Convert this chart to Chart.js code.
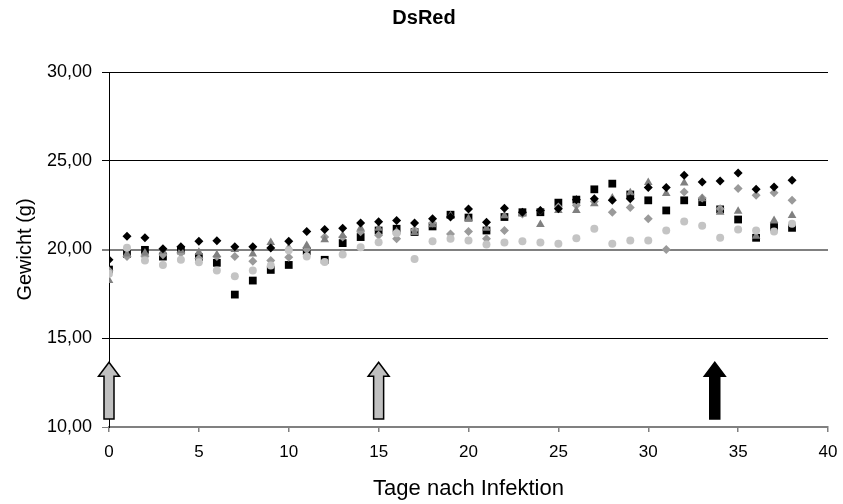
<!DOCTYPE html>
<html>
<head>
<meta charset="utf-8">
<script src="https://cdn.jsdelivr.net/npm/chart.js@4"></script>
<style>
  body { margin: 0; background: #fff; }
</style>
</head>
<body>
<canvas id="dsredCanvas" width="843" height="504"></canvas>
<script>
// days after infection
const days = [0,1,2,3,4,5,6,7,8,9,10,11,12,13,14,15,16,17,18,19,20,21,22,23,24,25,26,27,28,29,30,31,32,33,34,35,36,37,38];

// weight (g) per animal
const blackDiamond = [19.42,20.75,20.66,20.04,20.15,20.47,20.50,20.15,20.15,20.08,20.47,21.02,21.13,21.20,21.50,21.56,21.64,21.49,21.73,21.83,22.28,21.54,22.33,22.10,22.20,22.30,22.80,22.86,22.77,22.86,23.49,23.49,24.18,23.80,23.86,24.31,23.39,23.52,23.90];
const blackSquare = [18.87,19.75,19.98,19.60,19.95,19.57,19.25,17.46,18.25,18.85,19.13,19.90,19.42,20.36,20.70,21.07,21.17,20.98,21.30,21.96,21.80,21.07,21.83,22.10,22.10,22.64,22.81,23.39,23.71,23.10,22.77,22.20,22.77,22.67,22.26,21.69,20.66,21.26,21.22];
const grayTriangle = [18.25,19.75,19.80,19.90,19.95,19.85,19.70,20.00,19.75,20.40,20.10,20.23,20.55,20.79,21.20,21.20,21.00,20.95,21.40,21.90,21.73,21.20,21.90,22.00,21.41,22.20,22.20,22.58,22.90,23.20,23.77,23.15,23.75,22.86,22.10,22.15,20.75,21.64,21.92];
const grayDiamond = [18.80,19.60,19.60,19.70,19.80,19.50,19.60,19.60,19.34,19.38,19.57,20.00,20.70,20.70,21.00,20.80,20.60,21.10,21.50,20.88,21.02,20.60,21.07,22.00,22.20,22.40,22.50,22.70,22.10,22.36,21.73,20.00,23.24,22.90,22.30,23.43,23.05,23.20,22.77];
const lightCircle = [18.64,20.10,19.38,19.13,19.42,19.28,18.81,18.50,18.81,19.10,19.96,19.60,19.30,19.72,20.13,20.41,20.92,19.47,20.47,20.60,20.51,20.28,20.40,20.47,20.40,20.32,20.64,21.17,20.32,20.51,20.51,21.07,21.58,21.34,20.66,21.13,21.07,21.02,21.45];

// treatment arrows
const arrowDays = [0, 15, 33.7];
const arrowFills = ['#c0c0c0', '#c0c0c0', '#000000'];
const arrowBottom = 10.45;
const arrowTop = 13.65;

const pts = (ys) => days.map((d, i) => ({ x: d, y: ys[i] }));
const FONT = "'Liberation Sans', Arial, sans-serif";

const arrowsAndTitle = {
    id: 'arrowsAndTitle',
    afterDatasetsDraw(chart) {
        const ctx = chart.ctx;
        const xs = chart.scales.x, ys = chart.scales.y;
        const yb = ys.getPixelForValue(arrowBottom);
        const yt = ys.getPixelForValue(arrowTop);
        arrowDays.forEach((d, i) => {
            const cx = xs.getPixelForValue(d);
            const sw = 5, hw = 10.5, hh = 14;
            ctx.save();
            ctx.beginPath();
            ctx.moveTo(cx - sw, yb);
            ctx.lineTo(cx - sw, yt + hh);
            ctx.lineTo(cx - hw, yt + hh);
            ctx.lineTo(cx, yt);
            ctx.lineTo(cx + hw, yt + hh);
            ctx.lineTo(cx + sw, yt + hh);
            ctx.lineTo(cx + sw, yb);
            ctx.closePath();
            ctx.fillStyle = arrowFills[i];
            ctx.fill();
            ctx.lineWidth = 1.5;
            ctx.strokeStyle = '#000';
            ctx.stroke();
            ctx.restore();
        });
        ctx.save();
        ctx.font = 'bold 20px ' + FONT;
        ctx.fillStyle = '#000';
        ctx.textAlign = 'center';
        ctx.textBaseline = 'middle';
        ctx.fillText('DsRed', 424, 18);
        ctx.restore();
    }
};

document.addEventListener("DOMContentLoaded", () => {
    const ctx = document.getElementById('dsredCanvas').getContext('2d');
    new Chart(ctx, {
        type: 'scatter',
        data: {
            datasets: [
                { label: 'A', data: pts(blackDiamond), pointStyle: 'rectRot', pointRadius: 4.5, backgroundColor: '#000000' },
                { label: 'E', data: pts(lightCircle), pointStyle: 'circle', pointRadius: 4, backgroundColor: '#c4c4c4' },
                { label: 'C', data: pts(grayTriangle), pointStyle: 'triangle', pointRadius: 5, backgroundColor: '#808080' },
                { label: 'D', data: pts(grayDiamond), pointStyle: 'rectRot', pointRadius: 4.5, backgroundColor: '#9a9a9a' },
                { label: 'B', data: pts(blackSquare), pointStyle: 'rect', pointRadius: 5.5, backgroundColor: '#000000' }
            ].map(ds => Object.assign(ds, { pointBorderWidth: 0, borderWidth: 0, pointHoverRadius: ds.pointRadius }))
        },
        options: {
            responsive: false,
            animation: false,
            layout: { padding: { top: 72, right: 0, left: 0, bottom: 0 } },
            plugins: {
                legend: { display: false },
                tooltip: { enabled: false }
            },
            scales: {
                x: {
                    type: 'linear',
                    min: 0, max: 40,
                    afterFit: (s) => { s.height = 77; s.paddingRight = 15; },
                    ticks: { stepSize: 5, color: '#000', padding: 10, font: { family: FONT, size: 17 } },
                    grid: { drawOnChartArea: false, drawTicks: true, tickLength: 5, color: '#808080', lineWidth: 1.5 },
                    border: { color: '#808080', width: 2 },
                    title: { display: true, text: 'Tage nach Infektion', color: '#000', font: { family: FONT, size: 22 }, padding: { top: 0, bottom: 2 } }
                },
                y: {
                    min: 10, max: 30,
                    afterFit: (s) => { s.width = 109; },
                    ticks: {
                        stepSize: 5, color: '#000', padding: 10,
                        font: { family: FONT, size: 18 },
                        callback: (v) => v.toFixed(2).replace('.', ',')
                    },
                    grid: {
                        drawTicks: true, tickLength: 7,
                        color: (c) => (c.tick && (c.tick.value === 20 || c.tick.value === 10)) ? '#808080' : '#000000',
                        lineWidth: (c) => (c.tick && c.tick.value === 20) ? 2 : 1
                    },
                    border: { color: '#000', width: 1 },
                    title: { display: true, text: 'Gewicht (g)', color: '#000', font: { family: FONT, size: 20 }, padding: { top: 13, bottom: 0 } }
                }
            }
        },
        plugins: [arrowsAndTitle]
    });
});
</script>
</body>
</html>
